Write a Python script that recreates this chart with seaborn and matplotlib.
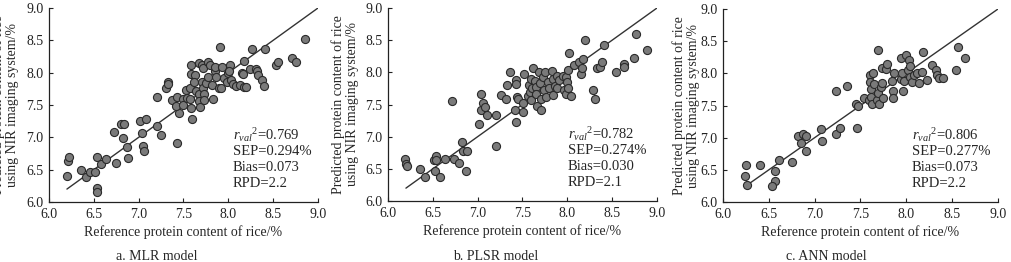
import numpy as np
import pandas as pd
import matplotlib
matplotlib.use("Agg")
import matplotlib.pyplot as plt
import seaborn as sns

# ---- data ----
mlr_ref = [6.20, 6.21, 6.22, 6.36, 6.41, 6.46, 6.51, 6.53, 6.53, 6.54, 6.58, 6.64, 6.75, 6.72,
           6.80, 6.84, 6.82, 6.87, 6.88, 7.01, 7.08, 7.04, 7.05, 7.06, 7.20, 7.25, 7.20, 7.30,
           7.33, 7.33, 7.37, 7.43, 7.45, 7.42, 7.43, 7.49, 7.50, 7.53, 7.54, 7.57, 7.57, 7.58,
           7.60, 7.58, 7.58, 7.63, 7.62, 7.64, 7.67, 7.67, 7.68, 7.67, 7.71, 7.72, 7.71, 7.72,
           7.73, 7.73, 7.75, 7.77, 7.77, 7.79, 7.82, 7.83, 7.85, 7.85, 7.86, 7.90, 7.91, 7.93,
           7.95, 7.92, 7.98, 8.00, 8.02, 8.01, 8.03, 8.05, 8.09, 8.13, 8.15, 8.16, 8.18, 8.18,
           8.20, 8.24, 8.26, 8.31, 8.32, 8.33, 8.37, 8.40, 8.41, 8.53, 8.55, 8.71, 8.76, 8.86]
mlr_pred = [6.40, 6.63, 6.70, 6.50, 6.38, 6.46, 6.47, 6.22, 6.15, 6.70, 6.59, 6.66, 6.60, 7.08,
            7.20, 7.21, 6.99, 6.85, 6.68, 7.25, 7.28, 7.07, 6.86, 6.79, 7.17, 7.03, 7.62, 7.76,
            7.85, 7.82, 7.58, 6.92, 7.38, 7.48, 7.62, 7.60, 7.50, 7.73, 7.61, 7.77, 7.59, 7.46,
            7.28, 7.98, 8.12, 7.96, 7.86, 7.72, 7.67, 7.56, 7.47, 8.15, 8.12, 8.07, 7.85, 7.76,
            7.67, 7.57, 7.84, 8.16, 7.94, 8.12, 7.81, 7.60, 8.03, 8.09, 7.94, 7.77, 8.40, 8.09,
            7.92, 7.76, 7.85, 8.00, 8.12, 8.03, 7.88, 7.83, 7.79, 7.81, 8.00, 7.98, 7.78, 8.18,
            7.78, 8.05, 8.36, 8.05, 8.02, 7.96, 7.89, 7.79, 8.36, 8.12, 8.16, 8.22, 8.17, 8.52]

plsr_ref = [6.19, 6.20, 6.21, 6.36, 6.41, 6.51, 6.53, 6.54, 6.52, 6.58, 6.64, 6.74, 6.79, 6.71,
            6.83, 6.84, 6.88, 6.87, 7.01, 7.04, 7.04, 7.06, 7.08, 7.10, 7.20, 7.20, 7.26, 7.32,
            7.33, 7.36, 7.42, 7.43, 7.43, 7.43, 7.44, 7.45, 7.51, 7.51, 7.52, 7.56, 7.57, 7.58,
            7.59, 7.60, 7.61, 7.62, 7.64, 7.65, 7.65, 7.66, 7.68, 7.69, 7.71, 7.71, 7.73, 7.74,
            7.75, 7.76, 7.78, 7.80, 7.83, 7.84, 7.84, 7.86, 7.88, 7.89, 7.91, 7.95, 7.96, 7.98,
            7.98, 8.00, 8.01, 8.01, 8.02, 8.04, 8.07, 8.13, 8.15, 8.16, 8.17, 8.20, 8.29, 8.31,
            8.33, 8.36, 8.39, 8.41, 8.54, 8.63, 8.63, 8.74, 8.77, 8.89]
plsr_pred = [6.66, 6.58, 6.54, 6.50, 6.38, 6.64, 6.70, 6.63, 6.46, 6.38, 6.66, 6.66, 6.59, 7.55,
             6.92, 6.78, 6.78, 6.46, 7.19, 7.66, 7.42, 7.52, 7.46, 7.33, 6.85, 7.33, 7.65, 7.59,
             7.81, 8.00, 7.42, 7.23, 7.88, 7.82, 7.61, 7.58, 7.53, 7.39, 7.97, 7.63, 7.80, 7.70,
             7.57, 7.90, 7.75, 8.06, 7.86, 7.77, 7.67, 7.47, 8.00, 7.83, 7.59, 7.42, 7.93, 7.73,
             8.01, 7.62, 7.85, 7.76, 8.02, 7.89, 7.64, 7.78, 7.95, 7.76, 7.88, 7.95, 7.72, 7.92,
             7.67, 7.85, 7.75, 8.04, 8.30, 7.63, 8.11, 8.16, 7.97, 8.06, 8.20, 8.50, 7.72, 7.59,
             8.06, 8.08, 8.16, 8.42, 8.00, 8.13, 8.09, 8.23, 8.60, 8.35]

ann_ref = [6.25, 6.24, 6.26, 6.40, 6.57, 6.57, 6.54, 6.61, 6.75, 6.82, 6.87, 6.85, 6.90, 6.91,
           7.07, 7.08, 7.23, 7.23, 7.28, 7.35, 7.45, 7.47, 7.46, 7.54, 7.59, 7.60, 7.60, 7.62,
           7.62, 7.63, 7.64, 7.65, 7.68, 7.69, 7.70, 7.69, 7.72, 7.73, 7.75, 7.73, 7.78, 7.79,
           7.84, 7.85, 7.85, 7.87, 7.94, 7.94, 7.95, 7.96, 7.97, 8.00, 8.02, 8.03, 8.04, 8.04,
           8.06, 8.08, 8.12, 8.14, 8.17, 8.18, 8.22, 8.28, 8.32, 8.33, 8.36, 8.40, 8.54, 8.56,
           8.64]
ann_pred = [6.57, 6.41, 6.27, 6.57, 6.48, 6.32, 6.25, 6.66, 6.62, 7.02, 7.06, 6.91, 7.02, 6.80,
            7.13, 6.95, 7.72, 7.05, 7.15, 7.80, 7.53, 7.50, 7.15, 7.61, 7.58, 7.98, 7.86, 7.76,
            7.63, 7.52, 8.00, 7.83, 7.59, 7.69, 7.53, 8.36, 7.79, 7.85, 7.61, 8.08, 8.07, 8.14,
            7.88, 7.72, 7.61, 8.00, 7.91, 8.24, 8.01, 7.72, 7.88, 8.29, 8.05, 8.20, 7.94, 8.11,
            7.86, 7.98, 8.00, 7.85, 8.02, 8.33, 7.89, 8.13, 8.05, 7.97, 7.93, 7.93, 8.05, 8.41,
            8.24]

models = ["MLR", "PLSR", "ANN"]
captions = ["a. MLR model", "b. PLSR model", "c. ANN model"]
r2 = ["0.769", "0.782", "0.806"]
sep = ["0.294", "0.274", "0.277"]
bias = ["0.073", "0.030", "0.073"]
rpd = ["2.2", "2.1", "2.2"]
line_start = [6.2, 6.2, 6.25]
ticks = [6.0, 6.5, 7.0, 7.5, 8.0, 8.5, 9.0]

df = pd.concat([
    pd.DataFrame({"ref": mlr_ref, "pred": mlr_pred, "model": "MLR"}),
    pd.DataFrame({"ref": plsr_ref, "pred": plsr_pred, "model": "PLSR"}),
    pd.DataFrame({"ref": ann_ref, "pred": ann_pred, "model": "ANN"}),
])

sns.set_style("ticks")
plt.rcParams["font.family"] = ["Liberation Serif", "DejaVu Serif"]
plt.rcParams["mathtext.fontset"] = "custom"
plt.rcParams["mathtext.rm"] = "Liberation Serif"
plt.rcParams["mathtext.it"] = "Liberation Serif:italic"

fig = plt.figure(figsize=(10.11, 2.62), dpi=100)
W, H = 1011, 262
# axes boxes in pixels: left, right, top, bottom
boxes = [(49, 318, 8, 202), (388, 657, 8, 201), (723, 998, 9, 202)]
ylab_x = [-0.162, -0.160, -0.134]
txt_x = [0.684, 0.669, 0.687]
cap_x = [157, 496, 826]

for i, m in enumerate(models):
    l, r, t, b = boxes[i]
    ax = fig.add_axes([l / W, (H - b) / H, (r - l) / W, (b - t) / H])
    sub = df[df["model"] == m]
    sns.scatterplot(data=sub, x="ref", y="pred", ax=ax, s=34, color="#7a7a7a",
                    edgecolor="#2a2a2a", linewidth=0.8, legend=False, zorder=3)
    ax.plot([line_start[i], 9.0], [line_start[i], 9.0], color="#333333", lw=1.0, zorder=2)
    ax.set_xlim(6.0, 9.0)
    ax.set_ylim(6.0, 9.0)
    ax.set_xticks(ticks)
    ax.set_yticks(ticks)
    ax.set_xticklabels([f"{v:.1f}" for v in ticks])
    ax.set_yticklabels([f"{v:.1f}" for v in ticks])
    ax.tick_params(direction="in", length=3, width=0.8, labelsize=10, pad=4, colors="#222222")
    sns.despine(ax=ax)
    for s in ["left", "bottom"]:
        ax.spines[s].set_linewidth(0.9)
        ax.spines[s].set_color("#222222")
    ax.set_xlabel("Reference protein content of rice/%", fontsize=10, va="center")
    ax.xaxis.set_label_coords(0.5, -0.155)
    ax.set_ylabel("Predicted protein content of rice\nusing NIR imaging system/%",
                  fontsize=10, va="center", linespacing=1.1)
    ax.yaxis.set_label_coords(ylab_x[i], 0.5)

    lines = [r"$\mathit{r}_{\mathit{val}}{}^{2}$" + "=" + r2[i],
             "SEP=" + sep[i] + "%",
             "Bias=" + bias[i],
             "RPD=" + rpd[i]]
    for k, s in enumerate(lines):
        ax.text(txt_x[i], 0.345 - k * 0.083, s, transform=ax.transAxes,
                fontsize=10.5, va="center", ha="left")

    fig.text(cap_x[i] / W, 1 - 256 / H, captions[i], fontsize=10, ha="center", va="center")

fig.savefig("out.png", dpi=100)
